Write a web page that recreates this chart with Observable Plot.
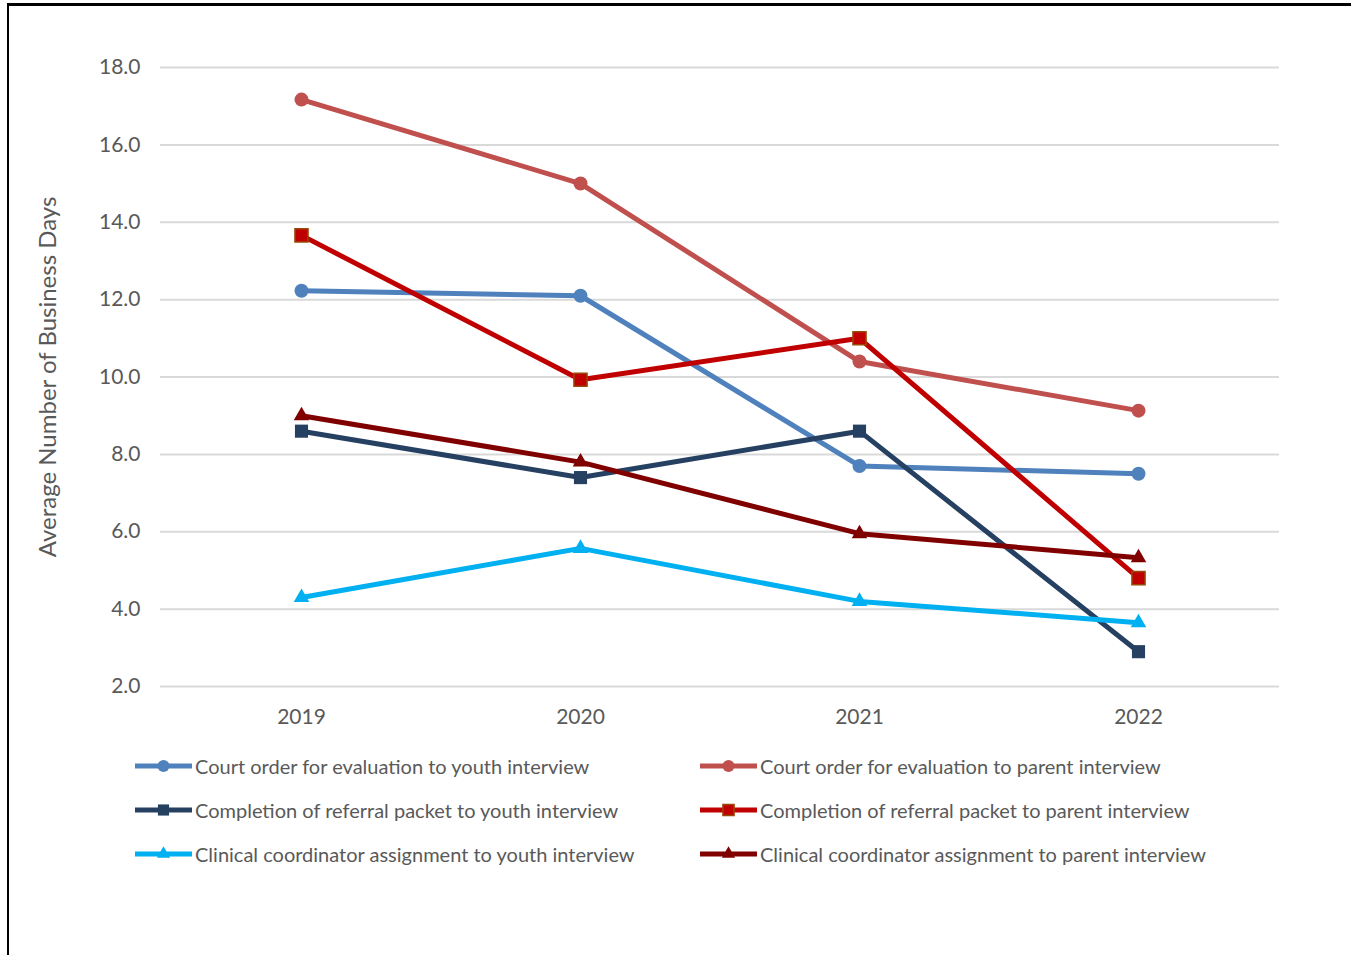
<!DOCTYPE html>
<html><head><meta charset="utf-8">
<script src="https://cdn.jsdelivr.net/npm/d3@7"></script>
<script src="https://cdn.jsdelivr.net/npm/@observablehq/plot@0.6"></script>
<style>
body{margin:0;background:#fff;font-family:Lato,"Open Sans",sans-serif;overflow:hidden;}
#frame{position:absolute;left:7px;top:3px;width:1400px;height:1000px;border-top:3px solid #000;border-left:2px solid #000;box-sizing:border-box;}
#chart{position:absolute;left:0;top:0;}
#legend{position:absolute;left:135px;top:744px;display:grid;grid-template-columns:565px 640px;grid-auto-rows:44px;color:#595959;font-size:20px;}
.item{display:flex;align-items:center;white-space:nowrap;}
.item svg{margin-right:3px;flex:none;}
</style></head>
<body>
<div id="frame"></div>
<div id="chart"></div>
<div id="legend"></div>
<script>
const years = ["2019", "2020", "2021", "2022"];
const seriesNames = [
  "Court order for evaluation to youth interview",
  "Court order for evaluation to parent interview",
  "Completion of referral packet to youth interview",
  "Completion of referral packet to parent interview",
  "Clinical coordinator assignment to youth interview",
  "Clinical coordinator assignment to parent interview"
];
const courtYouth = [12.23, 12.1, 7.7, 7.5];
const courtParent = [17.17, 15.0, 10.4, 9.13];
const completionYouth = [8.6, 7.4, 8.6, 2.9];
const completionParent = [13.66, 9.93, 11.0, 4.8];
const clinicalYouth = [4.3, 5.57, 4.2, 3.65];
const clinicalParent = [9.0, 7.8, 5.95, 5.33];
const yTicks = [2, 4, 6, 8, 10, 12, 14, 16, 18];
const yLabel = "Average Number of Business Days";

const seriesValues = [courtYouth, courtParent, completionYouth, completionParent, clinicalYouth, clinicalParent];
const lineColors = ["#4F81BD", "#C0504D", "#254061", "#C00000", "#00B0F0", "#800000"];
const markerFill = ["#4F81BD", "#C0504D", "#254061", "#C00000", "#00B0F0", "#800000"];
const markerStroke = ["#4F81BD", "#C0504D", "#254061", "#984807", "#00B0F0", "#800000"];
const symbols = ["circle", "circle", "square", "square", "triangle", "triangle"];
const symR = {circle: 7, square: 7.4, triangle: 5.8};

const rows = [];
seriesNames.forEach((s, i) => years.forEach((y, j) => rows.push({series: s, idx: i, year: y, value: seriesValues[i][j]})));

const marks = [
  Plot.gridY(yTicks, {stroke: "#D9D9D9", strokeOpacity: 1, strokeWidth: 2}),
  Plot.axisY(yTicks, {tickSize: 0, tickPadding: 20, fontSize: 21, tickFormat: d => d.toFixed(1), label: null}),
  Plot.axisX({tickSize: 0, tickPadding: 23, fontSize: 21, label: null}),
  Plot.text([yLabel], {frameAnchor: "left", textAnchor: "middle", dx: -112, rotate: -90, fontSize: 24, fill: "#595959", text: d => d})
];
seriesNames.forEach((s, i) => {
  const data = rows.filter(r => r.idx === i);
  marks.push(Plot.line(data, {x: "year", y: "value", stroke: lineColors[i], strokeWidth: 5}));
  marks.push(Plot.dot(data, {x: "year", y: "value", symbol: symbols[i], r: symR[symbols[i]], fill: markerFill[i], stroke: markerStroke[i], strokeWidth: i === 3 ? 1.5 : 0}));
});

const chart = Plot.plot({
  width: 1351, height: 740,
  marginTop: 67, marginBottom: 54, marginLeft: 160, marginRight: 72,
  style: {fontFamily: "Lato, 'Open Sans', sans-serif", color: "#595959", background: "transparent"},
  x: {type: "point", domain: years, padding: 0.5},
  y: {domain: [2, 18]},
  marks
});
document.getElementById("chart").appendChild(chart);

const legend = document.getElementById("legend");
seriesNames.forEach((name, i) => {
  const div = document.createElement("div");
  div.className = "item";
  const sw = d3.create("svg").attr("width", 57).attr("height", 20);
  sw.append("line").attr("x1", 0).attr("x2", 57).attr("y1", 10).attr("y2", 10).attr("stroke", lineColors[i]).attr("stroke-width", 5);
  const sym = symbols[i] === "circle" ? d3.symbolCircle : symbols[i] === "square" ? d3.symbolSquare : d3.symbolTriangle;
  const r = symR[symbols[i]] * 0.85;
  sw.append("path").attr("transform", "translate(28.5,10)").attr("d", d3.symbol(sym, Math.PI * r * r)())
    .attr("fill", markerFill[i]).attr("stroke", markerStroke[i]).attr("stroke-width", i === 3 ? 1.5 : 0);
  div.appendChild(sw.node());
  const t = document.createElement("span");
  t.textContent = name;
  div.appendChild(t);
  legend.appendChild(div);
});
</script>
</body></html>
